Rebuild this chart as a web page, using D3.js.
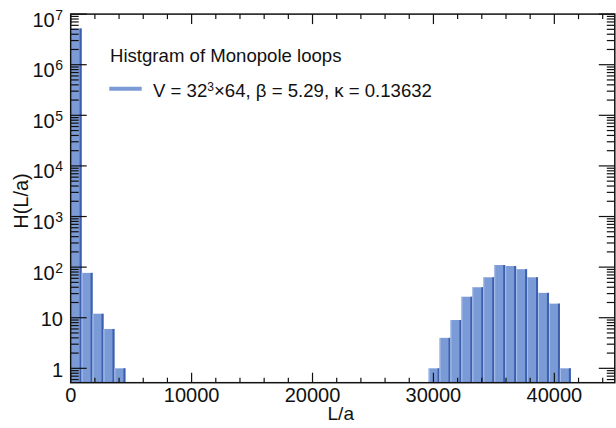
<!DOCTYPE html>
<html><head><meta charset="utf-8">
<script src="https://cdn.jsdelivr.net/npm/d3@7"></script>
<style>
body{margin:0;background:#fff}
text{font-family:"Liberation Sans",Arial,sans-serif;fill:#111}
</style>
</head><body><svg id="c" width="616" height="428"></svg>
<script>
// ---- data ----
const leftBinStarts = [0, 905, 1810, 2715, 3620];
const leftCounts = [5200000, 77, 12, 6, 1];
const rightBinStarts = [29600, 30505, 31410, 32315, 33220, 34125, 35030, 35935, 36840, 37745, 38650, 39555, 40460];
const rightCounts = [1, 4, 9, 26, 40, 63, 110, 105, 91, 63, 31, 19, 1];
const binWidth = 905;
const xMajorTicks = [0, 10000, 20000, 30000, 40000];
const xMinorTicks = [2000, 4000, 6000, 8000, 12000, 14000, 16000, 18000, 22000, 24000, 26000, 28000, 32000, 34000, 36000, 38000, 42000, 44000];
const yMajorExps = [0, 1, 2, 3, 4, 5, 6, 7];
const xDomain = [0, 45000];
const yDomain = [0.52, 1e7];
const legendTitle = "Histgram of Monopole loops";
const seriesLabelParts = ["V = 32", "3", "\u00d764, \u03b2 = 5.29, \u03ba = 0.13632"];
const xTitle = "L/a";
const yTitle = "H(L/a)";

// ---- layout ----
const L = 70.7, R = 614.8, T = 14.1, B = 382.7;
const svg = d3.select("#c");
const x = d3.scaleLinear().domain(xDomain).range([L, R]);
const y = d3.scaleLog().domain(yDomain).range([B, T]);

const bins = leftBinStarts.map((s, i) => ({s, v: leftCounts[i]}))
  .concat(rightBinStarts.map((s, i) => ({s, v: rightCounts[i]})));

const fill = "#7b9bd6", dark = "#3b5eae", light = "#aabee9";
const g = svg.append("g");
const bar = g.selectAll("g.bar").data(bins).join("g").attr("class", "bar");
bar.append("rect")
  .attr("x", d => x(d.s)).attr("width", d => x(d.s + binWidth) - x(d.s))
  .attr("y", d => y(d.v)).attr("height", d => B - y(d.v))
  .attr("fill", fill);
bar.append("rect")
  .attr("x", d => x(d.s + binWidth) - 2).attr("width", 2)
  .attr("y", d => y(d.v)).attr("height", d => B - y(d.v))
  .attr("fill", dark);
bar.append("rect")
  .attr("x", d => x(d.s)).attr("width", 1)
  .attr("y", d => y(d.v)).attr("height", d => B - y(d.v))
  .attr("fill", light);

// ---- ticks ----
const tk = svg.append("g").attr("stroke", "#111").attr("stroke-width", 1.2);
xMajorTicks.forEach(v => {
  tk.append("line").attr("x1", x(v)).attr("x2", x(v)).attr("y1", B).attr("y2", B - 10);
  tk.append("line").attr("x1", x(v)).attr("x2", x(v)).attr("y1", T).attr("y2", T + 10);
});
xMinorTicks.forEach(v => {
  tk.append("line").attr("x1", x(v)).attr("x2", x(v)).attr("y1", B).attr("y2", B - 5);
  tk.append("line").attr("x1", x(v)).attr("x2", x(v)).attr("y1", T).attr("y2", T + 5);
});
const majorVals = yMajorExps.map(e => Math.pow(10, e));
const yMinor = y.ticks().filter(v => !majorVals.some(m => Math.abs(m - v) / m < 1e-9));
majorVals.forEach(v => {
  tk.append("line").attr("x1", L).attr("x2", L + 16).attr("y1", y(v)).attr("y2", y(v));
  tk.append("line").attr("x1", R).attr("x2", R - 16).attr("y1", y(v)).attr("y2", y(v));
});
yMinor.forEach(v => {
  tk.append("line").attr("x1", L).attr("x2", L + 8).attr("y1", y(v)).attr("y2", y(v));
  tk.append("line").attr("x1", R).attr("x2", R - 8).attr("y1", y(v)).attr("y2", y(v));
});

// ---- frame ----
svg.append("rect").attr("x", L).attr("y", T).attr("width", R - L).attr("height", B - T)
  .attr("fill", "none").attr("stroke", "#111").attr("stroke-width", 1.5);

// ---- tick labels ----
xMajorTicks.forEach(v => {
  svg.append("text").attr("x", x(v)).attr("y", 402).attr("text-anchor", "middle")
    .attr("font-size", 20).text(d3.format("d")(v));
});
yMajorExps.forEach(e => {
  const v = Math.pow(10, e);
  const t = svg.append("text").attr("x", 63).attr("text-anchor", "end").attr("font-size", 20);
  if (e === 0) { t.attr("y", y(v) + 8.5).text("1"); }
  else if (e === 1) { t.attr("y", y(v) + 8).text("10"); }
  else {
    t.attr("y", y(v) + 12.5);
    t.append("tspan").text("10");
    t.append("tspan").attr("font-size", 14).attr("dy", -7).attr("dx", 0.5).text(String(e));
  }
});

// ---- axis titles ----
svg.append("text").attr("x", (L + R) / 2 - 2).attr("y", 420).attr("text-anchor", "middle")
  .attr("font-size", 19).text(xTitle);
svg.append("text").attr("transform", "translate(28,201) rotate(-90)").attr("text-anchor", "middle")
  .attr("font-size", 20).text(yTitle);

// ---- legend ----
svg.append("text").attr("x", 110).attr("y", 61.5).attr("font-size", 18.6).text(legendTitle);
svg.append("line").attr("x1", 109.3).attr("x2", 141.7).attr("y1", 88.7).attr("y2", 88.7)
  .attr("stroke", fill).attr("stroke-width", 4);
const lt = svg.append("text").attr("x", 153).attr("y", 96.5).attr("font-size", 18.6);
lt.append("tspan").text(seriesLabelParts[0]);
lt.append("tspan").attr("font-size", 12).attr("dy", -5.5).text(seriesLabelParts[1]);
lt.append("tspan").attr("dy", 5.5).text(seriesLabelParts[2]);
</script>
</body></html>
